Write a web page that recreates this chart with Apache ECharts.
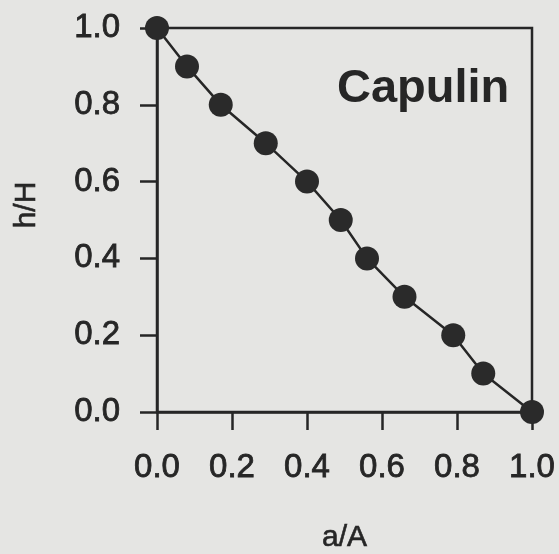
<!DOCTYPE html>
<html>
<head>
<meta charset="utf-8">
<script src="https://cdn.jsdelivr.net/npm/echarts@6/dist/echarts.min.js"></script>
<style>
  html, body { margin: 0; padding: 0; background: #e5e5e3; }
  #chart { width: 559px; height: 554px; }
</style>
</head>
<body>
<div id="chart"></div>
<script>
// Relative area vs relative height for the Capulin profile
const areaRatio   = [0.00, 0.08, 0.17, 0.29, 0.40, 0.49, 0.56, 0.66, 0.79, 0.87, 1.00];
const heightRatio = [1.00, 0.90, 0.80, 0.70, 0.60, 0.50, 0.40, 0.30, 0.20, 0.10, 0.00];
const panelTitle = 'Capulin';
const xName = 'a/A';
const yName = 'h/H';

const ink = '#262626';
const font = '"Liberation Sans", Arial, sans-serif';

const chart = echarts.init(document.getElementById('chart'), null, { renderer: 'canvas' });

const labelStyle = {
  fontFamily: font, fontSize: 33, color: ink,
  textBorderColor: ink, textBorderWidth: 0.8,
  formatter: v => v.toFixed(1)
};

chart.setOption({
  backgroundColor: '#e5e5e3',
  animation: false,
  grid: {
    left: 157, right: 27, top: 28, bottom: 142,
    outerBoundsMode: 'none',
    containLabel: false,
    show: true, borderColor: ink, borderWidth: 2.5, backgroundColor: 'transparent'
  },
  title: {
    text: panelTitle,
    left: 332, top: 61,
    textStyle: { fontFamily: font, fontWeight: 'bold', fontSize: 47, color: ink }
  },
  graphic: [{
    type: 'text',
    x: 27, y: 205, rotation: Math.PI / 2,
    style: {
      text: yName, fontFamily: font, fontSize: 30, fill: ink,
      stroke: ink, lineWidth: 0.6,
      align: 'center', verticalAlign: 'middle'
    }
  }],
  xAxis: {
    type: 'value', min: 0, max: 1, interval: 0.2,
    name: xName, nameLocation: 'middle', nameGap: 111,
    nameTextStyle: { fontFamily: font, fontSize: 30, color: ink, textBorderColor: ink, textBorderWidth: 0.6 },
    axisLine: { show: true, lineStyle: { color: ink, width: 2.5 } },
    axisTick: { show: true, inside: false, length: 18, lineStyle: { color: ink, width: 2.5 } },
    axisLabel: Object.assign({ margin: 39 }, labelStyle),
    splitLine: { show: false }
  },
  yAxis: {
    type: 'value', min: 0, max: 1, interval: 0.2,
    axisLine: { show: true, lineStyle: { color: ink, width: 2.5 } },
    axisTick: { show: true, inside: false, length: 17, lineStyle: { color: ink, width: 2.5 } },
    axisLabel: Object.assign({ margin: 37 }, labelStyle),
    splitLine: { show: false }
  },
  series: [{
    type: 'line',
    data: areaRatio.map((a, i) => [a, heightRatio[i]]),
    clip: false,
    symbol: 'circle',
    symbolSize: 24,
    lineStyle: { color: ink, width: 2.5 },
    itemStyle: { color: '#2a2a2a', borderWidth: 0 }
  }]
});
</script>
</body>
</html>
